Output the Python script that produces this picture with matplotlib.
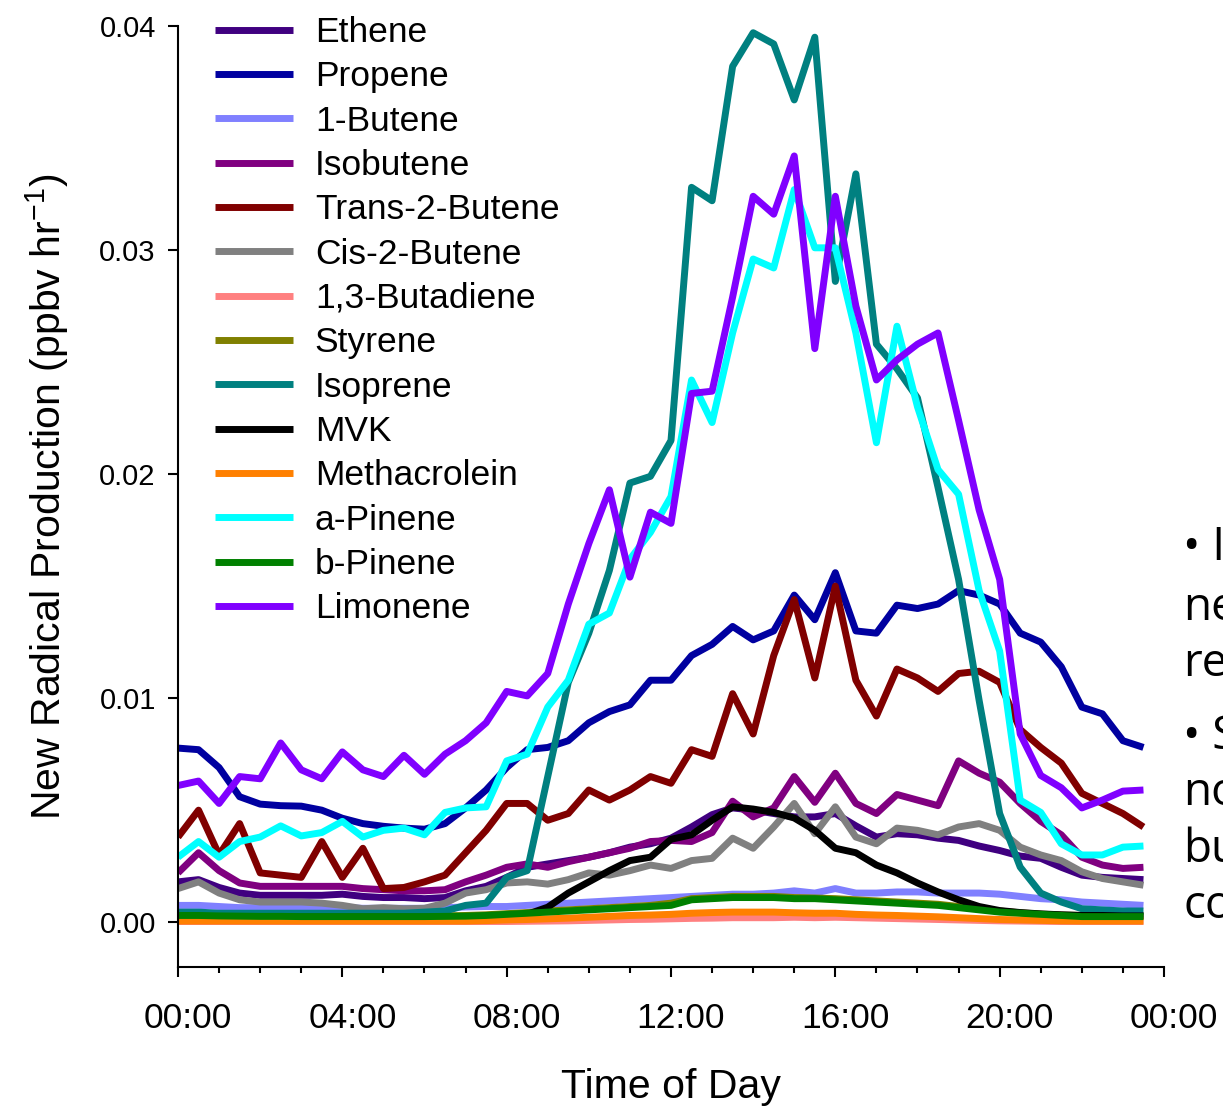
import numpy as np
import matplotlib
matplotlib.use("Agg")
import matplotlib.pyplot as plt
from matplotlib.transforms import ScaledTranslation

plt.rcParams["font.family"] = ["Liberation Sans", "DejaVu Sans"]
plt.rcParams["mathtext.default"] = "regular"

# ============================================================
# DATA (in 1e-3 ppbv/hr, every half hour)
# ============================================================
hours = np.arange(0, 23.51, 0.5)

ethene = [1.8, 1.9, 1.55, 1.3, 1.2, 1.2, 1.2, 1.2, 1.25, 1.15, 1.1, 1.1,
          1.05, 1.1, 1.4, 1.6, 2.0, 2.45, 2.6, 2.75, 2.9, 3.1, 3.35, 3.5,
          3.75, 4.25, 4.8, 5.1, 5.0, 4.85, 4.7, 4.7, 4.85, 4.3, 3.8, 3.95,
          3.9, 3.75, 3.65, 3.4, 3.2, 2.95, 2.85, 2.45, 2.1, 2.0, 1.95, 1.9]
propene = [7.77, 7.7, 6.9, 5.6, 5.27, 5.2, 5.18, 5.0, 4.64, 4.4, 4.28, 4.2,
           4.15, 4.4, 5.1, 5.9, 6.9, 7.7, 7.8, 8.1, 8.9, 9.4, 9.7, 10.8,
           10.8, 11.9, 12.4, 13.2, 12.6, 13.0, 14.6, 13.5, 15.6, 13.0, 12.9, 14.15,
           14.0, 14.2, 14.8, 14.6, 14.2, 12.9, 12.5, 11.4, 9.6, 9.3, 8.1, 7.8]
butene1 = [0.75, 0.75, 0.7, 0.65, 0.65, 0.65, 0.65, 0.65, 0.65, 0.62, 0.62, 0.62,
           0.62, 0.65, 0.68, 0.7, 0.7, 0.75, 0.8, 0.85, 0.9, 0.95, 1.0, 1.05,
           1.1, 1.15, 1.2, 1.25, 1.25, 1.3, 1.4, 1.3, 1.5, 1.3, 1.3, 1.35,
           1.35, 1.3, 1.3, 1.3, 1.25, 1.15, 1.05, 1.0, 0.9, 0.85, 0.8, 0.75]
isobutene = [2.2, 3.1, 2.3, 1.75, 1.6, 1.6, 1.6, 1.6, 1.6, 1.5, 1.45, 1.4,
             1.4, 1.45, 1.8, 2.1, 2.45, 2.6, 2.45, 2.7, 2.9, 3.1, 3.3, 3.6,
             3.65, 3.6, 4.0, 5.4, 4.7, 5.1, 6.5, 5.35, 6.65, 5.3, 4.85, 5.7,
             5.45, 5.2, 7.2, 6.65, 6.25, 5.3, 4.5, 3.9, 2.9, 2.55, 2.4, 2.45]
trans2butene = [3.8, 5.0, 3.0, 4.4, 2.2, 2.1, 2.0, 3.6, 2.0, 3.3, 1.5, 1.55,
                1.8, 2.1, 3.1, 4.1, 5.3, 5.3, 4.55, 4.85, 5.9, 5.45, 5.9, 6.5,
                6.2, 7.7, 7.4, 10.2, 8.4, 11.9, 14.4, 10.9, 15.0, 10.8, 9.2, 11.3,
                10.9, 10.3, 11.1, 11.2, 10.7, 8.6, 7.8, 7.1, 5.75, 5.3, 4.85, 4.25]
cis2butene = [1.5, 1.8, 1.3, 1.0, 0.9, 0.9, 0.9, 0.85, 0.75, 0.6, 0.65, 0.6,
              0.62, 0.85, 1.3, 1.45, 1.75, 1.8, 1.7, 1.9, 2.2, 2.1, 2.3, 2.55,
              2.4, 2.75, 2.85, 3.75, 3.3, 4.25, 5.3, 3.95, 5.15, 3.8, 3.5, 4.2,
              4.1, 3.9, 4.25, 4.4, 4.1, 3.35, 3.0, 2.75, 2.25, 1.95, 1.8, 1.65]
butadiene = [0.03, 0.03, 0.03, 0.03, 0.03, 0.03, 0.03, 0.03, 0.03, 0.03, 0.03, 0.03,
             0.03, 0.03, 0.03, 0.03, 0.03, 0.04, 0.05, 0.06, 0.08, 0.1, 0.12, 0.13,
             0.15, 0.17, 0.18, 0.2, 0.2, 0.2, 0.22, 0.2, 0.22, 0.2, 0.18, 0.16,
             0.14, 0.12, 0.1, 0.08, 0.06, 0.05, 0.04, 0.03, 0.03, 0.03, 0.03, 0.03]
styrene = [0.32, 0.32, 0.3, 0.3, 0.28, 0.28, 0.27, 0.27, 0.27, 0.27, 0.27, 0.27,
           0.27, 0.28, 0.3, 0.33, 0.38, 0.43, 0.5, 0.55, 0.6, 0.65, 0.7, 0.75,
           0.85, 1.05, 1.1, 1.15, 1.15, 1.15, 1.1, 1.08, 1.05, 1.0, 0.95, 0.9,
           0.85, 0.8, 0.7, 0.6, 0.5, 0.42, 0.36, 0.32, 0.3, 0.3, 0.3, 0.3]
isoprene = [0.45, 0.45, 0.4, 0.4, 0.4, 0.4, 0.4, 0.4, 0.4, 0.4, 0.4, 0.4,
            0.45, 0.5, 0.75, 0.85, 2.0, 2.3, 6.5, 10.7, 12.9, 15.7, 19.6, 19.9,
            21.5, 32.8, 32.2, 38.2, 39.7, 39.2, 36.7, 39.5, 28.6, 33.4, 25.8, 24.7,
            23.4, 19.4, 15.3, 9.9, 4.85, 2.46, 1.3, 0.9, 0.6, 0.55, 0.5, 0.5]
mvk = [0.22, 0.22, 0.22, 0.22, 0.22, 0.22, 0.22, 0.22, 0.22, 0.22, 0.22, 0.22,
       0.22, 0.22, 0.22, 0.22, 0.25, 0.35, 0.67, 1.3, 1.8, 2.3, 2.75, 2.9,
       3.7, 3.9, 4.55, 5.15, 5.05, 4.9, 4.65, 4.1, 3.3, 3.1, 2.55, 2.2,
       1.75, 1.35, 1.0, 0.7, 0.52, 0.43, 0.37, 0.33, 0.3, 0.3, 0.28, 0.28]
methacrolein = [0.05, 0.05, 0.05, 0.05, 0.05, 0.05, 0.05, 0.05, 0.05, 0.05, 0.05, 0.05,
                0.05, 0.05, 0.05, 0.07, 0.1, 0.12, 0.15, 0.18, 0.22, 0.26, 0.3, 0.32,
                0.35, 0.4, 0.43, 0.45, 0.45, 0.45, 0.42, 0.4, 0.4, 0.35, 0.32, 0.3,
                0.27, 0.24, 0.2, 0.16, 0.12, 0.1, 0.08, 0.06, 0.05, 0.05, 0.05, 0.05]
apinene = [2.9, 3.6, 2.9, 3.6, 3.8, 4.3, 3.85, 4.0, 4.5, 3.8, 4.1, 4.2,
           3.9, 4.9, 5.1, 5.15, 7.2, 7.5, 9.6, 10.8, 13.3, 13.8, 16.2, 17.4,
           19.0, 24.2, 22.3, 26.3, 29.6, 29.2, 32.7, 30.1, 30.1, 26.3, 21.4, 26.6,
           23.0, 20.2, 19.1, 14.8, 12.1, 5.45, 4.9, 3.5, 3.0, 3.0, 3.35, 3.4]
bpinene = [0.3, 0.3, 0.28, 0.27, 0.26, 0.26, 0.25, 0.25, 0.25, 0.25, 0.25, 0.25,
           0.25, 0.26, 0.27, 0.3, 0.35, 0.4, 0.45, 0.5, 0.55, 0.6, 0.65, 0.7,
           0.75, 1.0, 1.05, 1.1, 1.1, 1.1, 1.05, 1.05, 1.0, 0.95, 0.9, 0.85,
           0.8, 0.75, 0.65, 0.55, 0.45, 0.4, 0.35, 0.3, 0.25, 0.25, 0.25, 0.25]
limonene = [6.1, 6.3, 5.3, 6.5, 6.4, 8.0, 6.8, 6.4, 7.6, 6.8, 6.5, 7.45,
            6.6, 7.5, 8.1, 8.9, 10.3, 10.1, 11.1, 14.2, 16.9, 19.3, 15.4, 18.3,
            17.8, 23.6, 23.7, 27.9, 32.4, 31.6, 34.2, 25.6, 32.4, 27.5, 24.2, 25.1,
            25.8, 26.3, 22.4, 18.4, 15.3, 8.4, 6.55, 6.0, 5.1, 5.45, 5.85, 5.9]

series = [
    ("Ethene",         ethene,       "#400080"),
    ("Propene",        propene,      "#0000A0"),
    ("1-Butene",       butene1,      "#8080FF"),
    ("Isobutene",      isobutene,    "#800080"),
    ("Trans-2-Butene", trans2butene, "#800000"),
    ("Cis-2-Butene",   cis2butene,   "#808080"),
    ("1,3-Butadiene",  butadiene,    "#FF8080"),
    ("Styrene",        styrene,      "#808000"),
    ("Isoprene",       isoprene,     "#008080"),
    ("MVK",            mvk,          "#000000"),
    ("Methacrolein",   methacrolein, "#FF8000"),
    ("a-Pinene",       apinene,      "#00FFFF"),
    ("b-Pinene",       bpinene,      "#008000"),
    ("Limonene",       limonene,     "#8000FF"),
]

xtick_pos = [0, 4, 8, 12, 16, 20, 24]
xtick_lab = ["00:00", "04:00", "08:00", "12:00", "16:00", "20:00", "00:00"]
ytick_pos = [0.0, 0.01, 0.02, 0.03, 0.04]

# texto da lateral direita (cortado pela borda da figura, como no original)
side_lines = ["\u2022 I", "ne", "re", "\u2022 S", "no", "bu", "co"]
side_y = [560, 620, 676, 749, 805, 862, 918]   # linhas de base, px a partir do topo

# ============================================================
# FIGURA
# ============================================================
W, H = 1223, 1106
fig = plt.figure(figsize=(W / 100, H / 100), dpi=100)
ax = fig.add_axes([178 / W, 139 / H, 986 / W, 941 / H])

for nome, vals, cor in series:
    ax.plot(hours, np.array(vals) * 1e-3, color=cor, lw=5, label=nome,
            solid_joinstyle="round", solid_capstyle="butt")

ax.set_xlim(0, 24)
ax.set_ylim(-0.002, 0.04)

for s in ("top", "right"):
    ax.spines[s].set_visible(False)
for s in ("left", "bottom"):
    ax.spines[s].set_linewidth(1.5)

ax.set_xticks(xtick_pos)
ax.set_xticklabels(xtick_lab)
ax.set_xticks(np.arange(0, 25, 1), minor=True)
ax.set_yticks(ytick_pos)
ax.set_yticklabels([f"{v:.2f}" for v in ytick_pos])

ax.tick_params(axis="x", which="major", direction="out", length=7, width=1.5,
               labelsize=25.5, pad=18)
ax.tick_params(axis="x", which="minor", direction="out", length=4.5, width=1.5)
ax.tick_params(axis="y", which="major", direction="out", length=7, width=1.5,
               labelsize=21, pad=9)

off = ScaledTranslation(10 / 100, 0, fig.dpi_scale_trans)
for lab in ax.get_xticklabels():
    lab.set_transform(lab.get_transform() + off)

ax.set_xlabel("Time of Day", fontsize=29.5, labelpad=24)
ax.set_ylabel("New Radical Production (ppbv hr$^{-1}$)", fontsize=29.5, labelpad=20)

ax.legend(loc="upper left", bbox_to_anchor=(215 / W, 1 - 16 / H),
          bbox_transform=fig.transFigure, frameon=False, fontsize=25.5,
          handlelength=2.2, handletextpad=0.62, labelspacing=0.32,
          borderpad=0, borderaxespad=0)

for txt, yb in zip(side_lines, side_y):
    fig.text(1183 / W, 1 - yb / H, txt, fontsize=33,
             family=["Open Sans", "DejaVu Sans"], va="baseline", ha="left")

fig.savefig("out.png", dpi=100)
